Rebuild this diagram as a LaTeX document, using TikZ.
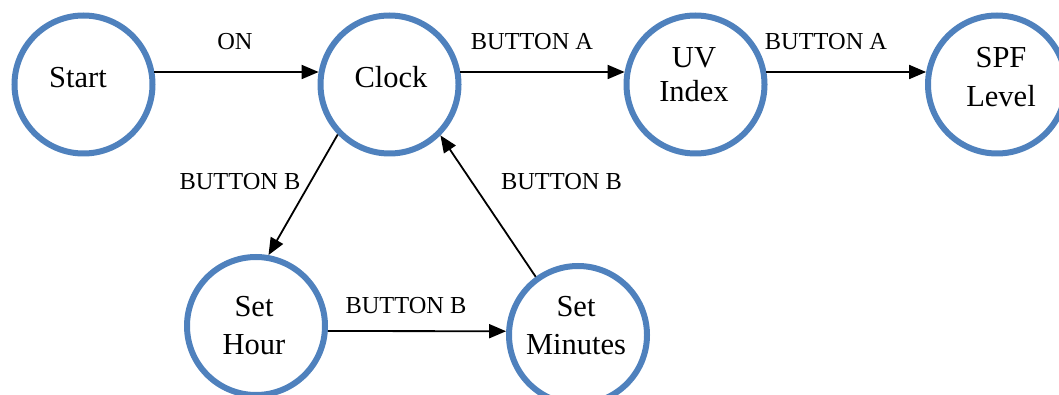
\documentclass[tikz,border=0pt]{standalone}
\usepackage{fontspec}
\setmainfont{Liberation Serif}
\usetikzlibrary{arrows.meta}
\definecolor{stateblue}{RGB}{79,129,189}
\tikzset{
  state/.style={circle, draw=stateblue, line width=6pt, minimum size=138pt, inner sep=0pt},
  stxt/.style={anchor=base, inner sep=0pt, font=\fontsize{30.5}{38}\selectfont},
  lbl/.style={inner sep=0pt, font=\fontsize{24.4}{29}\selectfont},
  trans/.style={line width=1.8pt, -{Triangle[length=17pt,width=14pt]}}
}
% two centred lines; the box's baseline is that of the first line
\newcommand\twolines[3][0pt]{\begin{tabular}[t]{@{}c@{}}#2\\[#1]#3\end{tabular}}
\begin{document}
\begin{tikzpicture}[x=1pt,y=-1pt]
\useasboundingbox (0,0) rectangle (1059,395);

% states
\node[state] (start) at (83.5,84.5)  {};
\node[state] (clock) at (389.5,84.5) {};
\node[state] (uv)    at (695.5,84.5) {};
\node[state] (spf)   at (997,84.5)   {};
\node[state] (hour)  at (256,326)    {};
\node[state] (min)   at (578,335)    {};

% state names (anchored on the baseline of the first line)
\node[stxt] (start-t) at (78,88)      {Start};
\node[stxt] (clock-t) at (391,88)     {Clock};
\node[stxt] (uv-t)    at (694,68)     {\twolines[-4pt]{UV}{Index}};
\node[stxt] (spf-t)   at (1001,68)    {\twolines[1pt]{SPF}{Level}};
\node[stxt] (hour-t)  at (254,316.5)  {\twolines{Set}{Hour}};
\node[stxt] (min-t)   at (576,316.5)  {\twolines{Set}{Minutes}};

% transitions
\draw[trans] (start.10) -- (clock.170);
\draw[trans] (clock.10) -- (uv.170);
\draw[trans] (uv.10) -- (spf.170);
\draw[trans] (clock.224) -- (hour.80);
\draw[trans] (hour.-4) -- (min.177);
\draw[trans] (min.126) -- (clock.315);

% transition labels
\node[lbl] (lon)  at (235,42)    {ON};
\node[lbl] (la1)  at (532,42)    {BUTTON A};
\node[lbl] (la2)  at (826,42)    {BUTTON A};
\node[lbl] (lb1)  at (240,182)   {BUTTON B};
\node[lbl] (lb2)  at (561.5,182) {BUTTON B};
\node[lbl] (lb3)  at (406,305.5) {BUTTON B};
\end{tikzpicture}
\end{document}
